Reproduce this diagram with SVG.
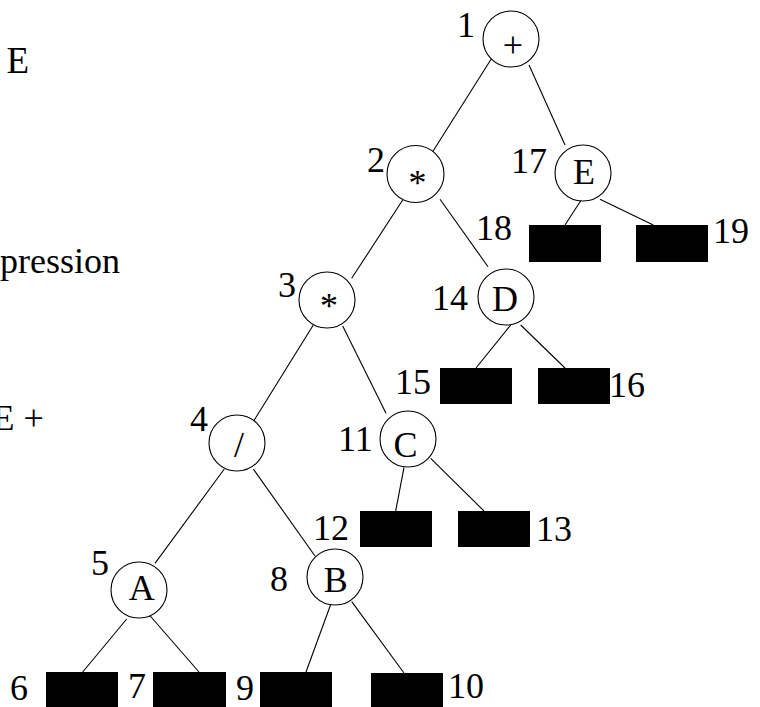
<svg xmlns="http://www.w3.org/2000/svg" width="760" height="707" viewBox="0 0 760 707">
  <style>
    text { font-family: "Liberation Serif", "Times New Roman", serif; font-size: 36px; fill: #000; }
    .sym { text-anchor: middle; }
    .node circle { fill: #fff; stroke: #000; stroke-width: 1.1; }
    .leaf rect { fill: #000; }
    #edges line { stroke: #000; stroke-width: 1.1; }
  </style>
  <rect width="760" height="707" fill="#fff"/>

  <!-- fragments of the expression text at the left edge -->
  <g id="side-text">
    <text x="6.5" y="73" style="font-size:37px">E</text>
    <text x="0" y="273">pression</text>
    <text x="-7.5" y="430">E +</text>
  </g>

  <!-- tree edges -->
  <g id="edges">
    <line x1="491.7" y1="58.3" x2="431.7" y2="153.3"/>
    <line x1="529" y1="65" x2="565" y2="145"/>
    <line x1="402.7" y1="200" x2="351.7" y2="278.3"/>
    <line x1="440" y1="199.3" x2="488" y2="266.7"/>
    <line x1="581.7" y1="199.3" x2="565" y2="225"/>
    <line x1="600" y1="199.3" x2="653.3" y2="225"/>
    <line x1="313.3" y1="325" x2="253.3" y2="421.7"/>
    <line x1="342.7" y1="326" x2="386" y2="413.3"/>
    <line x1="510.7" y1="325" x2="476" y2="368"/>
    <line x1="520.7" y1="325" x2="565" y2="368"/>
    <line x1="224.3" y1="469" x2="155" y2="563.3"/>
    <line x1="253.3" y1="469" x2="315" y2="556"/>
    <line x1="404" y1="467.3" x2="395.7" y2="511"/>
    <line x1="430.7" y1="458.3" x2="484" y2="511"/>
    <line x1="126.7" y1="619" x2="82.7" y2="672"/>
    <line x1="145" y1="610" x2="199" y2="672"/>
    <line x1="331.7" y1="601.7" x2="306" y2="672"/>
    <line x1="351.7" y1="601.7" x2="404" y2="673"/>
  </g>

  <!-- operator / operand nodes -->
  <g id="n1" class="node"><circle cx="511" cy="39" r="28"/><text class="sym" x="513" y="57">+</text><text x="457" y="37">1</text></g>
  <g id="n2" class="node"><circle cx="415.5" cy="174" r="28.5"/><text class="sym" x="417.5" y="195">*</text><text x="367" y="172">2</text></g>
  <g id="n17" class="node"><circle cx="583" cy="173" r="28"/><text class="sym" x="584" y="184">E</text><text x="511" y="173">17</text></g>
  <g id="n3" class="node"><circle cx="327" cy="300" r="28"/><text class="sym" x="329" y="318">*</text><text x="278" y="297">3</text></g>
  <g id="n14" class="node"><circle cx="506" cy="297" r="28"/><text class="sym" x="505" y="311">D</text><text x="432" y="310">14</text></g>
  <g id="n4" class="node"><circle cx="237" cy="443" r="28"/><text class="sym" x="239" y="457">/</text><text x="190" y="431">4</text></g>
  <g id="n11" class="node"><circle cx="408" cy="439" r="28"/><text class="sym" x="405.5" y="456.5">C</text><text x="338" y="451">11</text></g>
  <g id="n5" class="node"><circle cx="139" cy="590" r="28"/><text class="sym" x="141.7" y="600">A</text><text x="91" y="575">5</text></g>
  <g id="n8" class="node"><circle cx="335" cy="577" r="28"/><text class="sym" x="335.8" y="592">B</text><text x="270" y="591">8</text></g>

  <!-- empty leaves -->
  <g id="n18" class="leaf"><rect x="529" y="225" width="72" height="37"/><text x="476" y="240">18</text></g>
  <g id="n19" class="leaf"><rect x="636" y="225" width="72" height="37"/><text x="713" y="243">19</text></g>
  <g id="n15" class="leaf"><rect x="440" y="368" width="72" height="36"/><text x="395" y="394">15</text></g>
  <g id="n16" class="leaf"><rect x="538" y="368" width="72" height="36"/><text x="609" y="397">16</text></g>
  <g id="n12" class="leaf"><rect x="360" y="511" width="72" height="36"/><text x="313" y="540">12</text></g>
  <g id="n13" class="leaf"><rect x="458" y="511" width="72" height="36"/><text x="536" y="541">13</text></g>
  <g id="n6" class="leaf"><rect x="46" y="672" width="72" height="36"/><text x="10" y="700">6</text></g>
  <g id="n7" class="leaf"><rect x="153" y="672" width="73" height="36"/><text x="128" y="698">7</text></g>
  <g id="n9" class="leaf"><rect x="260" y="672" width="72" height="36"/><text x="236" y="700">9</text></g>
  <g id="n10" class="leaf"><rect x="371" y="673" width="72" height="35"/><text x="448" y="698">10</text></g>
</svg>
